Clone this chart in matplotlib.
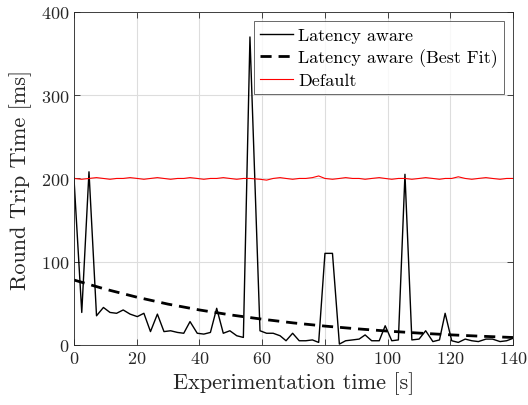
import matplotlib
matplotlib.use("Agg")
import matplotlib.pyplot as plt

plt.rcParams['font.family'] = ['cmr10', 'DejaVu Serif']
plt.rcParams['axes.formatter.use_mathtext'] = True
plt.rcParams['mathtext.fontset'] = 'cm'

# latency aware measurements
x_lat = [0, 2.5, 4.8, 7.2, 9.4, 11.5, 13.6, 15.7, 17.9, 20.2, 22.3, 24.4, 26.6,
         28.7, 30.8, 33.0, 35.0, 37.0, 39.3, 41.4, 43.5, 45.5, 47.6, 49.7, 51.9,
         54.0, 56.1, 59.3, 61.4, 63.5, 65.7, 67.6, 69.7, 71.8, 73.9, 76.0, 78.0,
         80.0, 82.4, 84.6, 86.6, 88.8, 90.9, 92.8, 94.9, 97.3, 99.2, 101.3, 103.4,
         105.5, 107.7, 110.0, 112.1, 114.4, 116.5, 118.3, 120.4, 122.5, 124.7,
         126.8, 128.9, 131.3, 133.4, 135.8, 137.9, 140.0]
y_lat = [201, 39, 208, 35, 45, 39, 38, 42, 37, 34, 38, 16, 37,
         16, 17, 15, 14, 28, 14, 13, 15, 44, 14, 17, 11,
         9, 370, 17, 14, 14, 11, 5, 14, 5, 5, 6, 3,
         110, 110, 1, 5, 6, 7, 12, 5, 5, 23, 5, 6,
         205, 6, 7, 17, 4, 6, 38, 5, 3, 7,
         5, 4, 7, 7, 4, 5, 8]

# best fit of latency aware
x_fit = [0, 10, 20, 30, 40, 50, 60, 70, 80, 90, 100, 110, 120, 130, 140]
y_fit = [78, 67, 57.4, 49, 42, 36, 30.9, 26.4, 22.6, 19.4, 16.6, 14.2, 12.1, 10.4, 8.9]

# default
x_def = x_lat
y_def = [200, 199, 200, 201, 200, 199, 200, 200, 201, 200, 199, 200, 201,
         200, 199, 200, 200, 201, 200, 199, 200, 200, 201, 200, 199,
         200, 200, 199, 198, 200, 201, 200, 199, 200, 200, 201, 203,
         200, 199, 200, 201, 200, 200, 199, 200, 201, 200, 199, 200,
         200, 199, 200, 201, 200, 199, 200, 200, 202, 200, 199, 200,
         201, 200, 199, 200, 200]

fig = plt.figure(figsize=(5.28, 4.06), dpi=100)
ax = fig.add_axes([0.140, 0.148, 0.832, 0.820])

ax.plot(x_lat, y_lat, color='k', linewidth=1.0, label='Latency aware')
ax.plot(x_fit, y_fit, color='k', linestyle=(0, (4, 2.5)), linewidth=2.0,
        label='Latency aware (Best Fit)')
ax.plot(x_def, y_def, color='r', linewidth=0.8, label='Default')

ax.set_xlim(0, 140)
ax.set_ylim(0, 400)
ax.set_xticks(range(0, 141, 20))
ax.set_yticks(range(0, 401, 100))
ax.grid(True, color='#dddddd', linewidth=0.8)
ax.set_axisbelow(True)
ax.tick_params(direction='in', top=True, right=True, length=4, width=0.6,
               labelsize=13, colors='#262626')
for s in ax.spines.values():
    s.set_color('#262626')
    s.set_linewidth(0.6)

ax.set_xlabel('Experimentation time [s]', fontsize=16, color='#262626', labelpad=4)
ax.set_ylabel('Round Trip Time [ms]', fontsize=16, color='#262626', labelpad=6)

leg = ax.legend(loc='upper right', fontsize=13, frameon=True, fancybox=False,
                edgecolor='#262626', handlelength=1.8, handletextpad=0.3,
                borderpad=0.35, labelspacing=0.3, borderaxespad=0.5)
leg.get_frame().set_linewidth(0.6)

fig.savefig('out.png', dpi=100)
